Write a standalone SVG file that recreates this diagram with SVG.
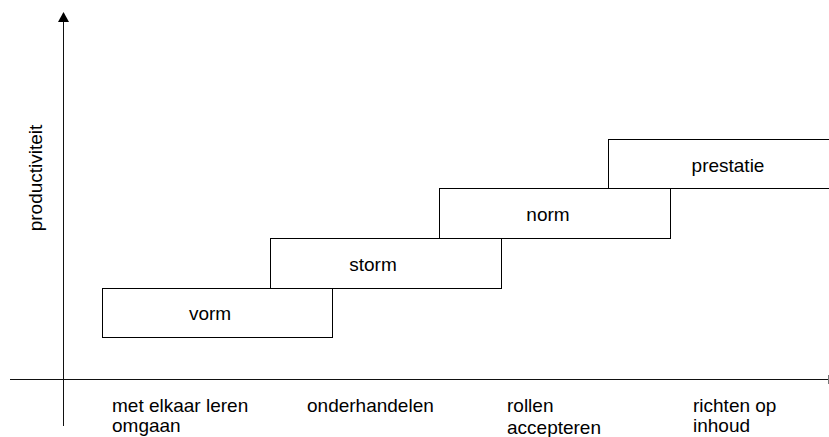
<svg xmlns="http://www.w3.org/2000/svg" width="829" height="437" viewBox="0 0 829 437">
  <style>
    text { font-family: "Liberation Sans", Arial, sans-serif; font-size: 19px; fill: #000; }
    .box { fill: #fff; stroke: #000; stroke-width: 1; }
    .axis { stroke: #111; stroke-width: 1; fill: none; }
    .mid { text-anchor: middle; }
  </style>
  <defs>
    <marker id="arrow" markerWidth="11" markerHeight="10" refX="5.5" refY="0" orient="auto-start-reverse" markerUnits="userSpaceOnUse" viewBox="0 0 11 10">
      <path d="M0,10 L5.5,0 L11,10 Z" fill="#000"/>
    </marker>
  </defs>

  <!-- axes -->
  <g id="connectors">
    <line class="axis" x1="63.5" y1="426" x2="63.5" y2="22"/>
    <path d="M58,22 L63.5,12 L69,22 Z" fill="#000"/>
    <line class="axis" x1="10" y1="379.5" x2="829" y2="379.5"/>
    <line x1="828.5" y1="375" x2="828.5" y2="384" stroke="#777" stroke-width="1"/>
  </g>

  <text id="y-label" transform="translate(42,178) rotate(-90)" class="mid">productiviteit</text>

  <!-- stages -->
  <g id="vorm">
    <rect class="box" x="102.5" y="288.5" width="230" height="49"/>
    <text class="mid" x="210" y="320">vorm</text>
  </g>
  <g id="storm">
    <rect class="box" x="270.5" y="238.5" width="231" height="50"/>
    <text class="mid" x="373" y="271">storm</text>
  </g>
  <g id="norm">
    <rect class="box" x="439.5" y="188.5" width="231" height="50"/>
    <text class="mid" x="548" y="221">norm</text>
  </g>
  <g id="prestatie">
    <rect class="box" x="608.5" y="139.5" width="231" height="49"/>
    <text class="mid" x="728" y="172">prestatie</text>
  </g>

  <!-- phase descriptions along the x axis -->
  <g id="labels">
    <text x="112" y="412">met elkaar leren</text>
    <text x="112" y="432">omgaan</text>
    <text x="307" y="412">onderhandelen</text>
    <text x="507" y="412">rollen</text>
    <text x="507" y="434">accepteren</text>
    <text x="693" y="412">richten op</text>
    <text x="693" y="432">inhoud</text>
  </g>
</svg>
